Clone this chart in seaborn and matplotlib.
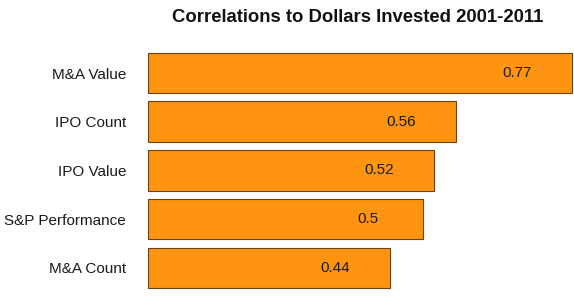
import matplotlib
matplotlib.use("Agg")
import matplotlib.pyplot as plt
import seaborn as sns
import pandas as pd

categories = ["M&A Value", "IPO Count", "IPO Value", "S&P Performance", "M&A Count"]
values = [0.77, 0.56, 0.52, 0.5, 0.44]
value_labels = ["0.77", "0.56", "0.52", "0.5", "0.44"]
title = "Correlations to Dollars Invested 2001-2011"

sns.set_theme(style="white")
plt.rcParams["font.family"] = ["Liberation Sans", "DejaVu Sans"]

df = pd.DataFrame({"cat": categories, "val": values})

fig = plt.figure(figsize=(5.74, 2.97), dpi=100)
ax = fig.add_axes([0.2584, 0.0162, 1.0 - 0.2584, 0.8362 - 0.0162])

sns.barplot(data=df, x="val", y="cat", orient="h", color="#FF9410", saturation=1,
            width=0.834, edgecolor="#6b4210", linewidth=0.8, ax=ax)

for i, (v, lab) in enumerate(zip(values, value_labels)):
    ax.annotate(lab, xy=(v, i), xytext=(-39.6, 0), textcoords="offset points",
                ha="center", va="center", fontsize=11, color="#1a1a1a")

ax.set_xlim(0, 0.774)
ax.set_ylim(4.5, -0.5)
ax.set_xlabel("")
ax.set_ylabel("")
ax.set_xticks([])
ax.tick_params(axis="y", length=0, pad=16, labelsize=11, labelcolor="#1a1a1a")
for s in ax.spines.values():
    s.set_visible(False)

fig.text((0.2584 + 1.0) / 2 - 0.006, 1 - 17 / 297, title, ha="center", va="center",
         fontsize=13.3, fontweight="bold", color="#111111")

fig.savefig("out.png", dpi=100)
